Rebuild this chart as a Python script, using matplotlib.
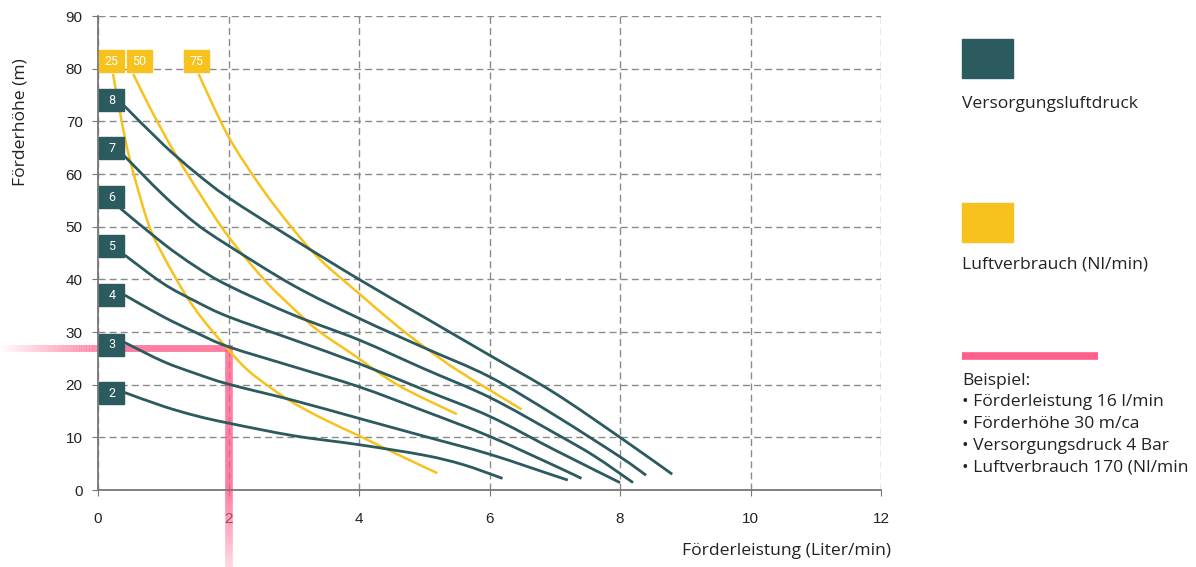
import numpy as np
import matplotlib
matplotlib.use("Agg")
import matplotlib.pyplot as plt
from matplotlib.patches import Rectangle, PathPatch
from matplotlib.collections import LineCollection
from matplotlib.path import Path

plt.rcParams["font.family"] = ["Liberation Sans", "DejaVu Sans"]

# Versorgungsluftdruck (bar) curves: Förderleistung (l/min) vs Förderhöhe (m)
pressure_names = ["2", "3", "4", "5", "6", "7", "8"]
pressure_x = [
    [0.41, 1.0, 1.5, 2.0, 3.0, 4.0, 5.0, 5.6, 6.2],
    [0.41, 1.0, 1.5, 2.0, 3.0, 4.0, 5.0, 6.0, 7.0, 7.2],
    [0.41, 1.0, 1.5, 2.0, 3.0, 4.0, 5.0, 6.0, 7.0, 7.41],
    [0.41, 1.0, 1.5, 2.0, 3.0, 4.0, 5.0, 6.0, 7.0, 8.0],
    [0.34, 1.0, 1.5, 2.0, 3.0, 4.0, 5.0, 6.0, 7.0, 7.6, 8.2],
    [0.39, 1.0, 1.5, 2.0, 3.0, 4.0, 5.0, 6.0, 7.0, 8.0, 8.4],
    [0.39, 1.0, 1.5, 2.0, 3.0, 4.0, 5.0, 6.0, 7.0, 8.0, 8.8],
]
pressure_y = [
    [18.5, 15.9, 14.1, 12.7, 10.3, 8.6, 6.6, 4.8, 2.2],
    [28.0, 24.4, 22.1, 20.1, 17.0, 13.6, 10.2, 6.8, 2.7, 1.9],
    [37.0, 32.9, 29.9, 27.2, 23.4, 19.6, 15.0, 10.2, 4.6, 2.2],
    [44.6, 39.2, 35.8, 32.9, 28.5, 24.0, 19.0, 14.0, 7.6, 1.4],
    [53.5, 46.8, 42.4, 38.8, 33.2, 28.5, 23.0, 17.6, 10.8, 6.5, 1.4],
    [63.6, 56.0, 50.6, 46.4, 38.8, 32.6, 27.0, 21.5, 14.2, 6.3, 2.8],
    [73.1, 65.6, 60.2, 55.5, 47.6, 40.0, 32.8, 25.6, 18.4, 10.0, 3.0],
]
pressure_label_y = [18.4, 27.6, 37.0, 46.3, 55.6, 64.9, 74.0]

# Luftverbrauch (Nl/min) curves
air_names = ["25", "50", "75"]
air_x = [
    [0.23, 0.36, 0.49, 0.77, 1.0, 1.33, 1.6, 2.0, 2.3, 2.66, 3.0, 3.5, 4.0, 4.6, 5.2],
    [0.54, 0.8, 1.18, 1.6, 2.0, 2.55, 3.0, 3.37, 3.9, 4.6, 5.5],
    [1.54, 2.0, 2.5, 2.96, 3.4, 4.0, 4.6, 5.04, 5.5, 6.0, 6.49],
]
air_y = [
    [79.0, 70.2, 62.7, 50.6, 44.5, 37.3, 32.5, 26.6, 22.7, 19.3, 16.5, 13.2, 10.3, 6.7, 3.2],
    [79.0, 72.5, 63.9, 55.5, 48.1, 39.9, 34.4, 30.3, 25.8, 19.9, 14.4],
    [79.0, 67.1, 57.5, 50.0, 43.8, 37.3, 31.0, 26.8, 22.8, 19.0, 15.3],
]
air_label_x = [0.015, 0.445, 1.32]

# Beispiel
example_flow = 2.0
example_head = 27.0

teal = "#2b5a5f"
yellow = "#f7c21d"
pink = "#ff5f8b"
txt = "#222222"
lf = "Open Sans"
fs = 12.6


def smooth(xs, ys):
    # Bezier path through the read points (Catmull-Rom tangents)
    p = np.column_stack([xs, ys])
    verts, codes = [p[0]], [Path.MOVETO]
    for i in range(len(p) - 1):
        p0 = p[i - 1] if i > 0 else p[i]
        p3 = p[i + 2] if i + 2 < len(p) else p[i + 1]
        verts += [p[i] + (p[i + 1] - p0) / 6, p[i + 1] - (p3 - p[i]) / 6, p[i + 1]]
        codes += [Path.CURVE4] * 3
    return Path(verts, codes)


fig = plt.figure(figsize=(11.96, 5.67), dpi=100, facecolor="white")
ax = fig.add_axes([98 / 1196, 77 / 567, 783 / 1196, 474 / 567])
ax.set_xlim(0, 12)
ax.set_ylim(0, 90)
ax.set_xticks(range(0, 13, 2))
ax.set_yticks(range(0, 91, 10))
ax.grid(True, linestyle=(0, (5, 3)), color="#8a8a8a", linewidth=1.0)
ax.set_axisbelow(True)
for s in ["top", "right"]:
    ax.spines[s].set_visible(False)
for s in ["left", "bottom"]:
    ax.spines[s].set_color("#777777")
    ax.spines[s].set_linewidth(1.3)
ax.tick_params(colors="#777777", labelcolor=txt, labelsize=11, length=4)
ax.tick_params(axis="y", pad=7)
ax.tick_params(axis="x", pad=12)

# example (pink) lines, fading outside the axes
ax.plot([0, example_flow], [example_head, example_head], color=pink, lw=5, alpha=0.8,
        solid_capstyle="butt", zorder=2)
ax.plot([example_flow, example_flow], [0, example_head + 0.6], color=pink, lw=5.5, alpha=0.8,
        solid_capstyle="butt", zorder=2)
n = 60
rgb = matplotlib.colors.to_rgb(pink)
hx = np.linspace(-1.5, 0, n + 1)
segs = [[(hx[i], example_head), (hx[i + 1], example_head)] for i in range(n)]
cols = [(*rgb, 0.8 * (i + 1) / n) for i in range(n)]
ax.add_collection(LineCollection(segs, colors=cols, linewidths=5, clip_on=False, zorder=2,
                                 capstyle="butt"))
vy = np.linspace(0, -14.6, n + 1)
segs = [[(example_flow, vy[i]), (example_flow, vy[i + 1])] for i in range(n)]
cols = [(*rgb, 0.8 - 0.55 * (i + 1) / n) for i in range(n)]
ax.add_collection(LineCollection(segs, colors=cols, linewidths=5.5, clip_on=False, zorder=2,
                                 capstyle="butt"))

for xs, ys in zip(air_x, air_y):
    ax.add_patch(PathPatch(smooth(xs, ys), fill=False, edgecolor=yellow, lw=1.8,
                           zorder=3, clip_on=False))
for xs, ys in zip(pressure_x, pressure_y):
    ax.add_patch(PathPatch(smooth(xs, ys), fill=False, edgecolor=teal, lw=2.0,
                           zorder=4, clip_on=False))

bw, bh = 0.383, 4.2
for name, yc in zip(pressure_names, pressure_label_y):
    ax.add_patch(Rectangle((0.02, yc - bh / 2), bw, bh, color=teal, zorder=5, clip_on=False))
    ax.text(0.02 + bw / 2, yc, name, color="white", ha="center", va="center",
            fontsize=9, zorder=6, family="Roboto")
for name, xl in zip(air_names, air_label_x):
    ax.add_patch(Rectangle((xl, 81.4 - bh / 2), bw, bh, color=yellow, zorder=5, clip_on=False))
    ax.text(xl + bw / 2, 81.4, name, color="white", ha="center", va="center",
            fontsize=9, zorder=6, family="Roboto")

fig.text(21 / 1196, 1 - 122 / 567, "Förderhöhe (m)", rotation=90, ha="center", va="center",
         fontsize=fs, color=txt, family=lf)
fig.text(891 / 1196, 1 - 551 / 567, "Förderleistung (Liter/min)", ha="right", va="center",
         fontsize=fs, color=txt, family=lf)

# legend / notes on the right
fig.patches.append(Rectangle((962 / 1196, 1 - 78 / 567), 51 / 1196, 39 / 567,
                             transform=fig.transFigure, color=teal))
fig.text(962 / 1196, 1 - 104 / 567, "Versorgungsluftdruck", ha="left", va="center",
         fontsize=fs, color=txt, family=lf)
fig.patches.append(Rectangle((962 / 1196, 1 - 242 / 567), 51 / 1196, 39 / 567,
                             transform=fig.transFigure, color=yellow))
fig.text(962 / 1196, 1 - 265 / 567, "Luftverbrauch (Nl/min)", ha="left", va="center",
         fontsize=fs, color=txt, family=lf)
fig.lines.append(plt.Line2D([962 / 1196, 1098 / 1196], [1 - 355.5 / 567] * 2,
                            transform=fig.transFigure, color=pink, lw=5.5,
                            solid_capstyle="butt"))
notes = ["Beispiel:", "• Förderleistung 16 l/min", "• Förderhöhe 30 m/ca",
         "• Versorgungsdruck 4 Bar", "• Luftverbrauch 170 (Nl/min"]
for i, t in enumerate(notes):
    fig.text(962 / 1196, 1 - (381 + 21.5 * i) / 567, t, ha="left", va="center",
             fontsize=fs, color=txt, family=lf)

fig.savefig("out.png", dpi=100, facecolor="white")
